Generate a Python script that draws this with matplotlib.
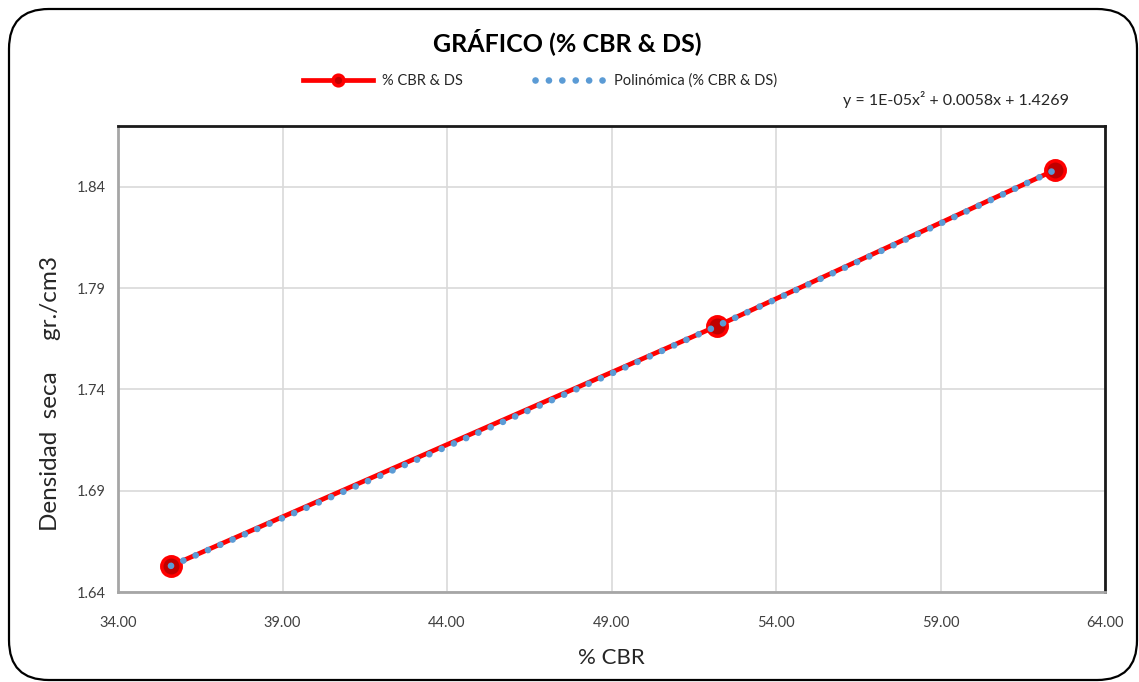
import numpy as np
import matplotlib
matplotlib.use("Agg")
import matplotlib.pyplot as plt
from matplotlib.patches import FancyBboxPatch

plt.rcParams['font.family'] = ['Lato', 'DejaVu Sans']

# Measured CBR values and dry density
cbr = [35.61, 52.21, 62.48]
densidad = [1.6529, 1.7713, 1.8483]

x_ticks = [34.00, 39.00, 44.00, 49.00, 54.00, 59.00, 64.00]
y_ticks = [1.64, 1.69, 1.74, 1.79, 1.84]

W, H = 1139, 682
fig = plt.figure(figsize=(W / 100, H / 100), dpi=100)

# rounded frame around the whole chart
frame = FancyBboxPatch((9 / W, 2 / H), (W - 11) / W, (H - 11) / H,
                       boxstyle="round,pad=0,rounding_size=0.035",
                       transform=fig.transFigure, fill=False,
                       edgecolor='black', linewidth=1.6,
                       mutation_aspect=W / H)
fig.patches.append(frame)

ax = fig.add_axes([118 / W, 1 - 592 / H, (1105 - 118) / W, (592 - 126) / H])

# quadratic trendline fitted to the measurements
coef = np.polyfit(cbr, densidad, 2)
xs = np.linspace(min(cbr), max(cbr), 300)
ys = np.polyval(coef, xs)

ax.plot(cbr, densidad, color='#ff0000', linewidth=3.4, marker='o',
        markersize=14, markerfacecolor='#c00000', markeredgecolor='#ff0000',
        markeredgewidth=2.5, label='% CBR & DS', zorder=3)
ax.plot(xs, ys, color='#5b9bd5', linewidth=4.8,
        linestyle=(0, (0.01, 2.0)), dash_capstyle='round',
        label='Polinómica (% CBR & DS)', zorder=4)

ax.set_xlim(34, 64)
ax.set_ylim(1.64, 1.87)
ax.set_xticks(x_ticks)
ax.set_xticklabels([f"{v:.2f}" for v in x_ticks])
ax.set_yticks(y_ticks)
ax.set_yticklabels([f"{v:.2f}" for v in y_ticks])
ax.tick_params(axis='both', length=0, labelsize=10.5, colors='#404040', pad=9)
ax.tick_params(axis='x', pad=17)
ax.grid(True, color='#d9d9d9', linewidth=1.2)
ax.set_axisbelow(True)

for side in ('left', 'bottom'):
    ax.spines[side].set_color('#a6a6a6')
    ax.spines[side].set_linewidth(2)
for side in ('top', 'right'):
    ax.spines[side].set_color('#1a1a1a')
    ax.spines[side].set_linewidth(2)

ax.set_xlabel('% CBR', fontsize=16, color='#262626', labelpad=13)
ax.set_ylabel('Densidad  seca     gr./cm3', fontsize=17.5, color='#262626')
ax.yaxis.set_label_coords(-0.058, 0.427)

fig.text(567 / W, 1 - 42 / H, 'GRÁFICO (% CBR & DS)', ha='center', va='center',
         fontsize=18, fontweight='bold', color='black')

handles, labels = ax.get_legend_handles_labels()
fig.legend(handles, labels, loc='center', bbox_to_anchor=(540 / W, 1 - 81 / H),
           ncol=2, frameon=False, fontsize=10.5, columnspacing=5.0,
           handlelength=4.8, handletextpad=0.6, labelcolor='#262626',
           markerscale=0.55)

fig.text(843 / W, 1 - 100 / H, 'y = 1E-05x² + 0.0058x + 1.4269',
         ha='left', va='center', fontsize=11.5, color='#262626')

fig.savefig('out.png', dpi=100)
